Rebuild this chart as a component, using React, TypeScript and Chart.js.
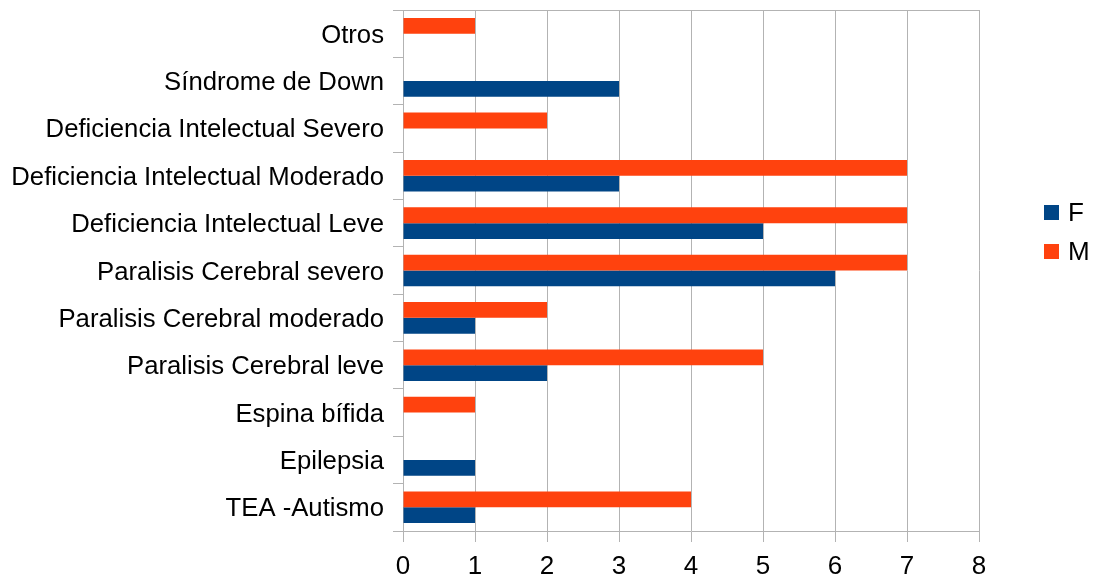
import React, { useEffect, useRef } from "react";
import { Chart, registerables } from "chart.js";

Chart.register(...registerables);

const categories = [
  "Otros",
  "Síndrome de Down",
  "Deficiencia Intelectual Severo",
  "Deficiencia Intelectual Moderado",
  "Deficiencia Intelectual Leve",
  "Paralisis Cerebral severo",
  "Paralisis Cerebral moderado",
  "Paralisis Cerebral leve",
  "Espina bífida",
  "Epilepsia",
  "TEA -Autismo",
];
const seriesF = [0, 3, 0, 3, 5, 6, 1, 2, 0, 1, 1];
const seriesM = [1, 0, 2, 7, 7, 7, 2, 5, 1, 0, 4];
const xTicks = [0, 1, 2, 3, 4, 5, 6, 7, 8];

const FONT = '"Liberation Sans", Arial, sans-serif';
const GRID = "#b3b3b3";

const frameAndLegend = {
  id: "frameAndLegend",
  afterDraw(chart: any) {
    const { ctx, chartArea } = chart;
    ctx.save();
    ctx.strokeStyle = GRID;
    ctx.lineWidth = 1;
    ctx.beginPath();
    ctx.moveTo(chartArea.left, Math.round(chartArea.top) + 0.5);
    ctx.lineTo(chartArea.right, Math.round(chartArea.top) + 0.5);
    ctx.stroke();

    const ds = chart.data.datasets.slice().reverse();
    const x0 = 1044;
    const ys = [213, 252];
    ctx.font = "26px " + FONT;
    ctx.textBaseline = "middle";
    ctx.textAlign = "left";
    ds.forEach((d: any, i: number) => {
      const y = ys[i];
      ctx.fillStyle = d.backgroundColor;
      ctx.fillRect(x0, y - 8, 15, 15);
      ctx.fillStyle = "#000";
      ctx.fillText(d.label, x0 + 24, y + 1);
    });
    ctx.restore();
  },
};

export default function App() {
  const ref = useRef<HTMLCanvasElement | null>(null);
  useEffect(() => {
    if (!ref.current) return;
    const chart = new Chart(ref.current, {
      type: "bar",
      data: {
        labels: categories,
        datasets: [
          {
            label: "M",
            data: seriesM,
            backgroundColor: "#ff420e",
            borderWidth: 0,
            categoryPercentage: 0.667,
            barPercentage: 1,
          },
          {
            label: "F",
            data: seriesF,
            backgroundColor: "#004586",
            borderWidth: 0,
            categoryPercentage: 0.667,
            barPercentage: 1,
          },
        ],
      },
      options: {
        indexAxis: "y",
        animation: false,
        responsive: true,
        maintainAspectRatio: false,
        layout: { padding: { left: 0, right: 114, top: 10, bottom: 0 } },
        plugins: {
          legend: { display: false },
          tooltip: { enabled: false },
        },
        scales: {
          x: {
            min: 0,
            max: 8,
            afterBuildTicks: (s: any) => {
              s.ticks = xTicks.map((v) => ({ value: v }));
            },
            afterFit: (s: any) => {
              s.height = 47;
              s.paddingLeft = 0;
              s.paddingRight = 0;
            },
            grid: {
              color: GRID,
              lineWidth: 1,
              tickLength: 11,
              drawOnChartArea: true,
            },
            border: { color: GRID, width: 1 },
            ticks: {
              color: "#000",
              padding: 9,
              font: { family: FONT, size: 26 },
            },
          },
          y: {
            afterFit: (s: any) => {
              s.width = 403;
              s.paddingTop = 0;
              s.paddingBottom = 0;
            },
            grid: {
              color: GRID,
              lineWidth: 1,
              tickLength: 10,
              offset: true,
              drawOnChartArea: false,
            },
            border: { color: GRID, width: 1 },
            ticks: {
              color: "#000",
              padding: 9,
              labelOffset: 2,
              font: { family: FONT, size: 25.7 },
            },
          },
        },
      },
      plugins: [frameAndLegend],
    });
    return () => chart.destroy();
  }, []);
  return (
    <div style={{ position: "fixed", left: 0, top: 0, width: 1093, height: 578, background: "#fff" }}>
      <canvas ref={ref} />
    </div>
  );
}
